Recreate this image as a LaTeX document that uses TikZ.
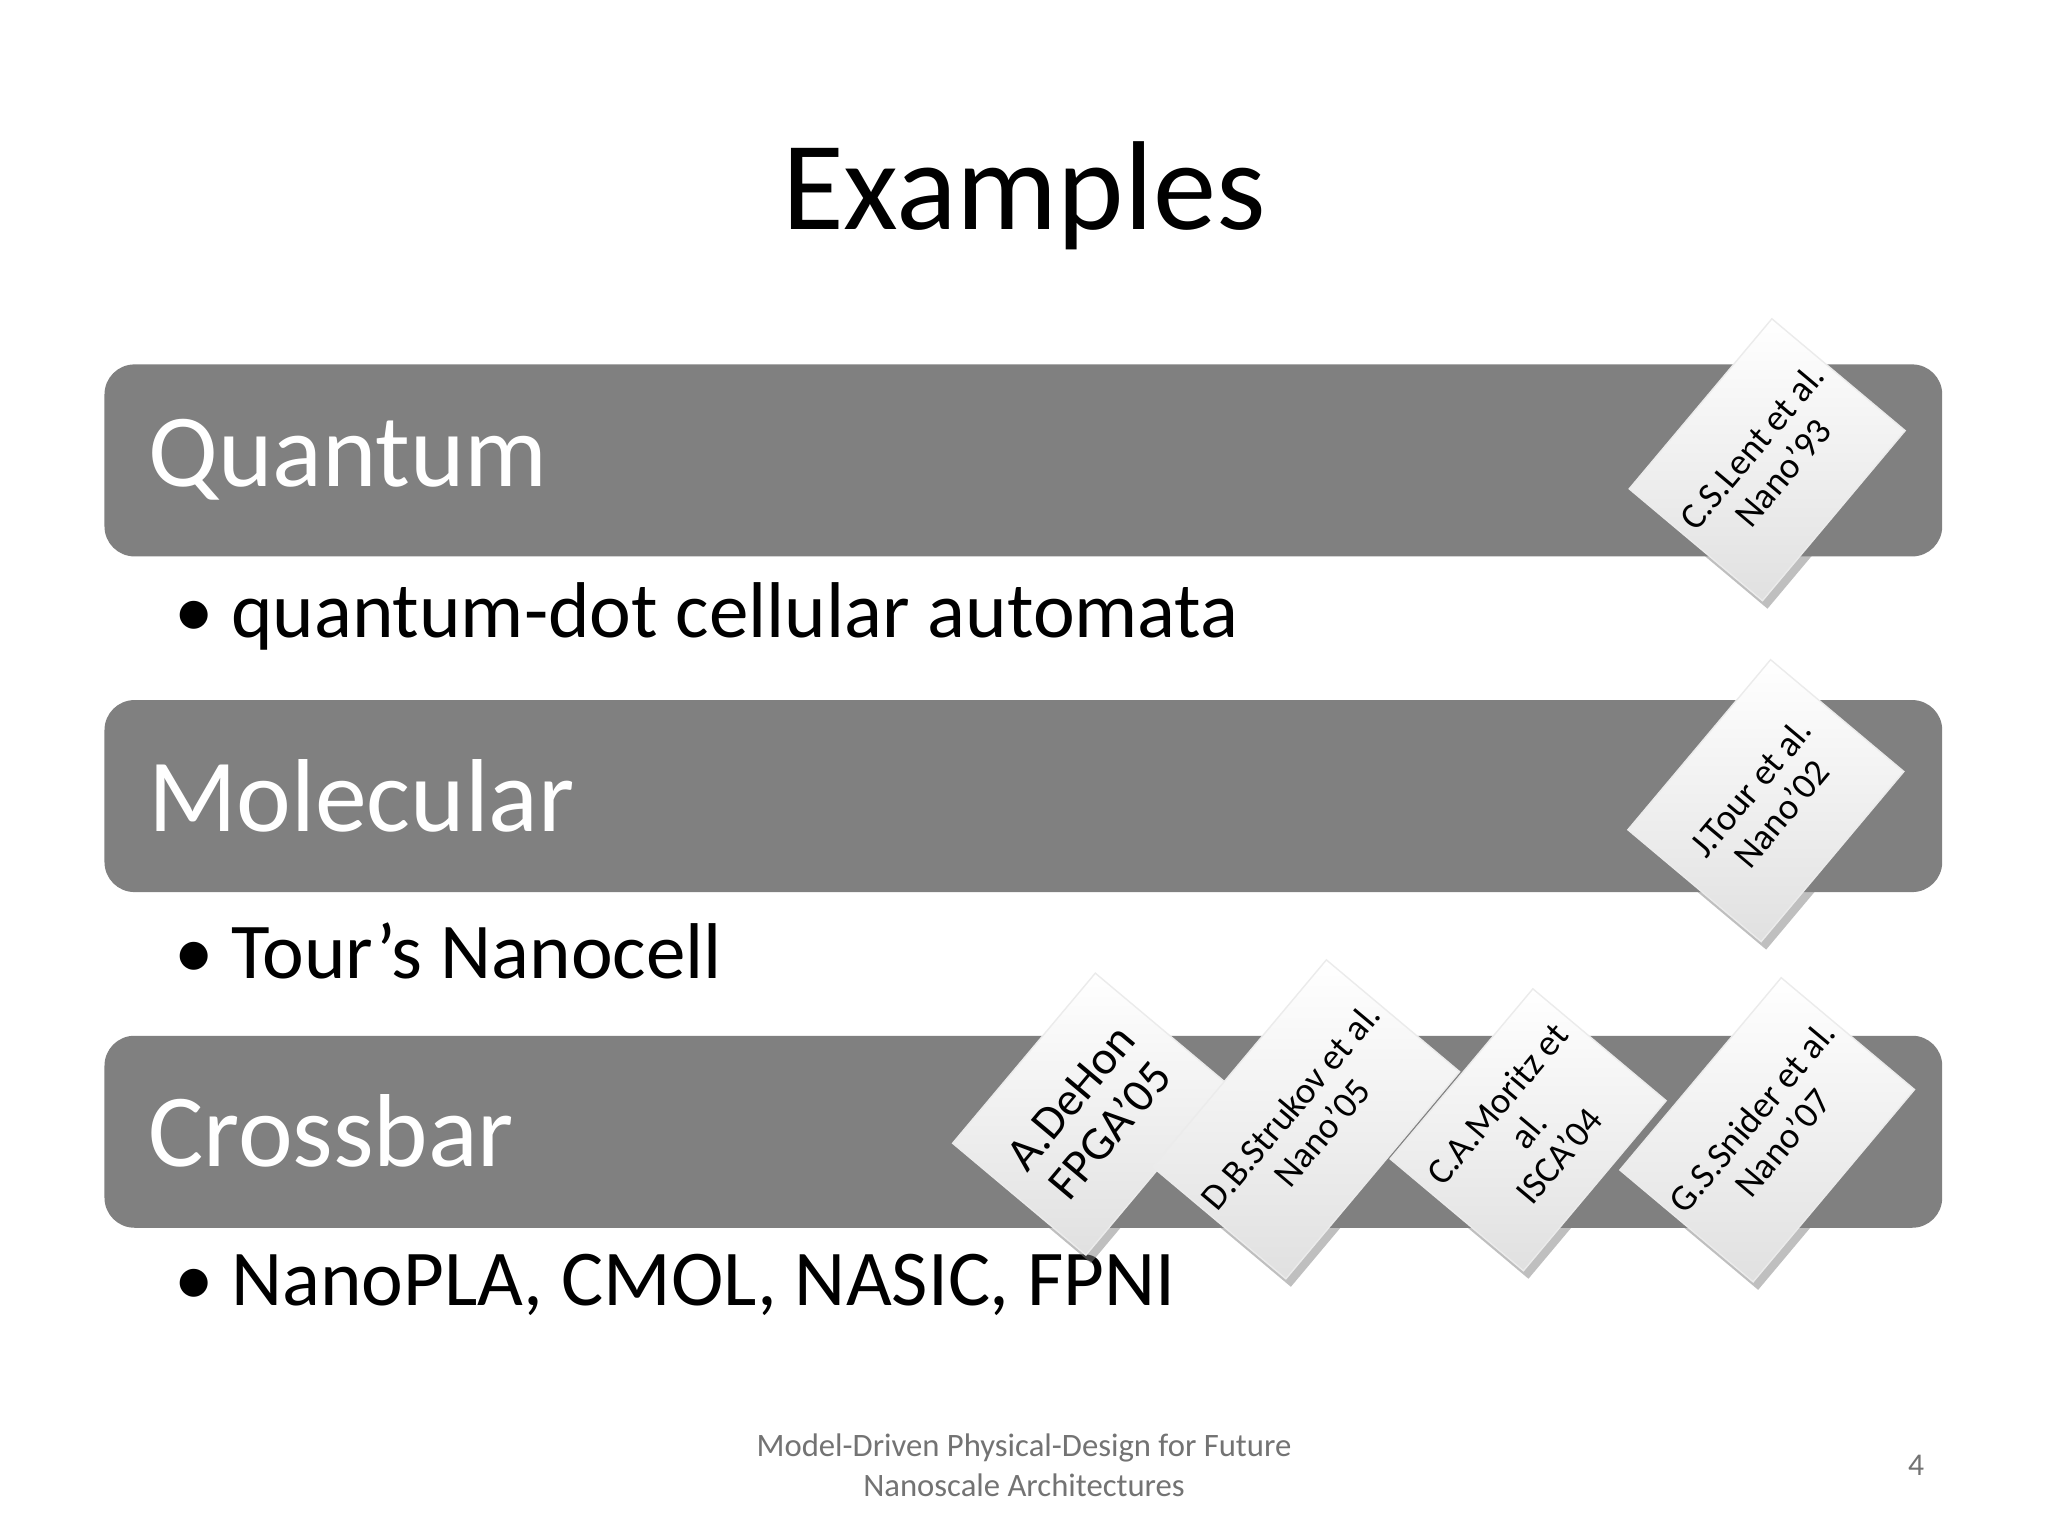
\documentclass[tikz,border=0pt]{standalone}
\usepackage{fontspec}
\setmainfont{Carlito}
\usetikzlibrary{shadows}
\begin{document}
\begin{tikzpicture}[x=0.01306cm,y=-0.01306cm,
  bar/.style={fill=black!50,rounded corners=0.3cm},
  bartext/.style={anchor=west,text=white,font=\fontsize{29.5}{31}\selectfont},
  bul/.style={anchor=west,font=\fontsize{22.5}{26}\selectfont},
  card/.style={rotate=50,minimum width=2.22cm,minimum height=1.74cm,top color=white,bottom color=black!12,draw=black!8,drop shadow={shadow xshift=0.5mm,shadow yshift=-0.8mm,opacity=0.5},align=center,font=\fontsize{10.5}{11.5}\selectfont,inner sep=2pt}]
\useasboundingbox[fill=white] (0,0) rectangle (1568,1176);
\node (title) at (784,150) {\fontsize{36}{40}\selectfont Examples};
\fill[bar] (80,279) rectangle (1487,426);
\fill[bar] (80,536) rectangle (1487,683);
\fill[bar] (80,793) rectangle (1487,940);
\node[bartext] (q) at (104,352) {Quantum};
\node[bartext] (m) at (104,609) {Molecular};
\node[bartext] (c) at (104,866) {Crossbar};
\node[bul] (b1) at (124,472) {\textbullet\hspace{0.22em}quantum-dot cellular automata};
\node[bul] (b2) at (124,728) {\textbullet\hspace{0.22em}Tour’s Nanocell};
\node[bul] (b3) at (124,984) {\textbullet\hspace{0.22em}NanoPLA, CMOL, NASIC, FPNI};
\node[card] (k1) at (1353,352) {C.S.Lent et al.\\Nano’93};
\node[card] (k2) at (1352,613) {J.Tour et al.\\Nano’02};
\node[card,font=\fontsize{13.5}{14.5}\selectfont] (k3) at (835,853) {A.DeHon\\FPGA’05};
\node[card] (k4) at (1000,857) {D.B.Strukov et al.\\Nano’05};
\node[card] (k5) at (1170,865) {C.A.Moritz et\\al.\\ISCA’04};
\node[card] (k6) at (1353,865) {G.S.Snider et al.\\Nano’07};
\node[text=black!55,align=center,font=\fontsize{9.3}{11.5}\selectfont] (f) at (784,1122) {Model-Driven Physical-Design for Future\\Nanoscale Architectures};
\node[text=black!55,font=\fontsize{9}{11}\selectfont] (p) at (1467,1122) {4};
\end{tikzpicture}
\end{document}
